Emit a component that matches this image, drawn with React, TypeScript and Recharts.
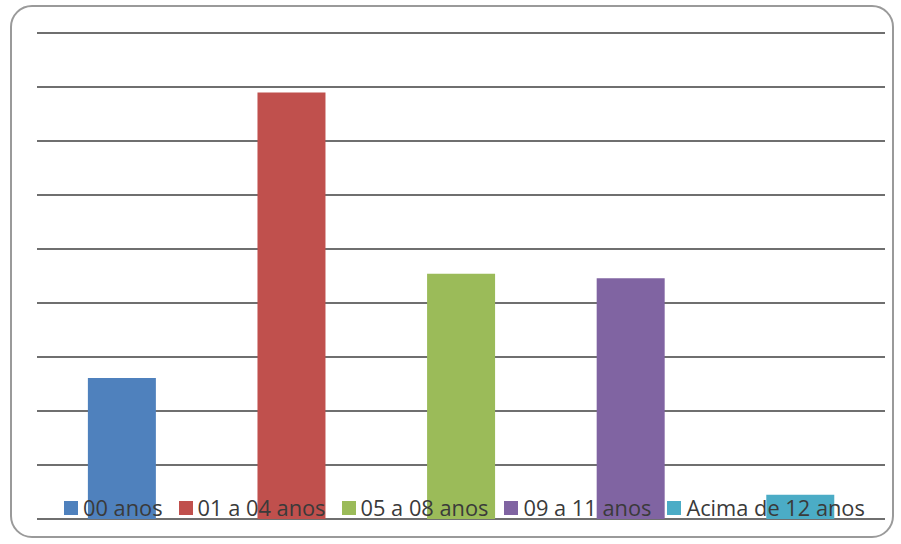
import { BarChart, Bar, XAxis, YAxis, CartesianGrid, Cell } from "recharts";

const faixas = ["00 anos", "01 a 04 anos", "05 a 08 anos", "09 a 11 anos", "Acima de 12 anos"];
const valores = [2.61, 7.9, 4.54, 4.46, 0.45];
const cores = ["#4f81bd", "#c0504d", "#9bbb59", "#8064a2", "#4bacc6"];
const yTicks = [0, 1, 2, 3, 4, 5, 6, 7, 8, 9];

const data = faixas.map((name, i) => ({ name, value: valores[i] }));

function Legenda() {
  return (
    <div
      style={{
        position: "absolute",
        left: 64,
        top: 493,
        display: "flex",
        alignItems: "center",
        fontFamily: "'Open Sans', sans-serif",
        fontSize: 21.8,
        color: "#3a3a3a",
        whiteSpace: "nowrap",
        pointerEvents: "none",
      }}
    >
      {faixas.map((f, i) => (
        <div key={f} style={{ display: "flex", alignItems: "center", marginRight: 16 }}>
          <span style={{ width: 14, height: 14, background: cores[i], marginRight: 5, display: "inline-block" }} />
          <span>{f}</span>
        </div>
      ))}
    </div>
  );
}

export default function App() {
  return (
    <div style={{ position: "absolute", left: 0, top: 0, width: 901, height: 544, background: "#fff" }}>
      <div
        style={{
          position: "absolute",
          left: 10,
          top: 5,
          width: 884,
          height: 533,
          border: "2px solid #9a9a9a",
          borderRadius: 22,
          boxSizing: "border-box",
        }}
      />
      <BarChart
        width={901}
        height={544}
        data={data}
        margin={{ top: 33, right: 16, bottom: 25, left: 37 }}
        barCategoryGap="30%"
      >
        <CartesianGrid vertical={false} stroke="#6f6f6f" strokeWidth={2} />
        <XAxis dataKey="name" hide />
        <YAxis hide domain={[0, 9]} ticks={yTicks} />
        <Bar dataKey="value" isAnimationActive={false}>
          {data.map((d, i) => (
            <Cell key={d.name} fill={cores[i]} />
          ))}
        </Bar>
      </BarChart>
      <Legenda />
    </div>
  );
}
